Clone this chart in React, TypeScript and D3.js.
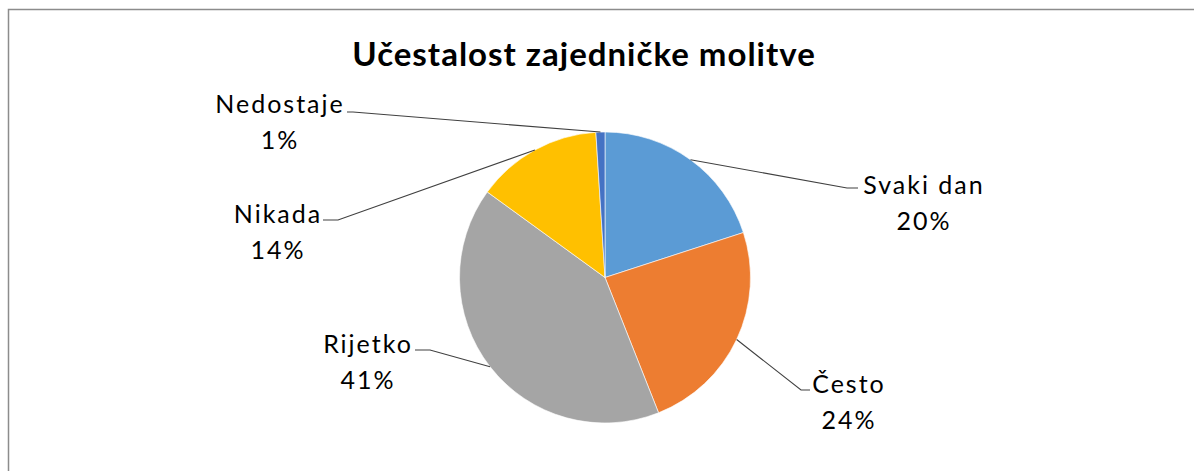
import React, { useEffect, useRef } from "react";
import * as d3 from "d3";

// data
const categories = ["Svaki dan", "Često", "Rijetko", "Nikada", "Nedostaje"];
const shares = [20, 24, 41, 14, 1];
const sliceColors = ["#5B9BD5", "#ED7D31", "#A5A5A5", "#FFC000", "#4472C4"];
const title = "Učestalost zajedničke molitve";

// label layout: elbow of leader line, end of leader line, label block centre and first baseline
const labelLayout = [
  { elbow: [847, 188], end: [858, 188], cx: 924, by: 194 },
  { elbow: [801, 390], end: [810, 390], cx: 849, by: 393 },
  { elbow: [430, 350], end: [415, 350], cx: 368, by: 353 },
  { elbow: [338, 220], end: [323, 220], cx: 278, by: 223 },
  { elbow: [353, 112], end: [347, 112], cx: 280, by: 113 },
];

const W = 1194;
const H = 471;
const FONT = "Lato, 'Open Sans', sans-serif";

export default function App() {
  const svgRef = useRef<SVGSVGElement | null>(null);

  useEffect(() => {
    const svg = d3.select(svgRef.current);
    svg.selectAll("*").remove();

    // chart frame (only top/left edges visible in the crop)
    svg
      .append("rect")
      .attr("x", 8.5)
      .attr("y", 9.5)
      .attr("width", W + 20)
      .attr("height", H + 20)
      .attr("fill", "#fff")
      .attr("stroke", "#8c8c8c")
      .attr("stroke-width", 1.5);

    svg
      .append("text")
      .attr("x", 584)
      .attr("y", 66)
      .attr("text-anchor", "middle")
      .style("font-family", FONT)
      .style("font-size", "33px")
      .style("font-weight", "700")
      .style("letter-spacing", "1px")
      .style("fill", "#000")
      .text(title);

    const cx = 605;
    const cy = 277.5;
    const r = 145.5;

    const pie = d3
      .pie<number>()
      .sort(null)
      .value((d) => d);
    const arcs = pie(shares);

    const arc = d3.arc<d3.PieArcDatum<number>>().innerRadius(0).outerRadius(r);
    const edge = d3.arc<d3.PieArcDatum<number>>().innerRadius(r).outerRadius(r);

    const g = svg.append("g").attr("transform", `translate(${cx},${cy})`);

    g.selectAll("path.slice")
      .data(arcs)
      .join("path")
      .attr("class", "slice")
      .attr("d", arc)
      .attr("fill", (d, i) => sliceColors[i])
      .attr("stroke", "#fff")
      .attr("stroke-width", 0.6);

    // leader lines
    const leaders = svg.append("g");
    arcs.forEach((d, i) => {
      const [ex, ey] = edge.centroid(d);
      const L = labelLayout[i];
      leaders
        .append("polyline")
        .attr("points", `${cx + ex},${cy + ey} ${L.elbow[0]},${L.elbow[1]} ${L.end[0]},${L.end[1]}`)
        .attr("fill", "none")
        .attr("stroke", "#404040")
        .attr("stroke-width", 1.1);
    });

    // labels
    const labels = svg
      .append("g")
      .style("font-family", FONT)
      .style("font-size", "25px")
      .style("letter-spacing", "2px")
      .style("fill", "#000");
    arcs.forEach((d, i) => {
      const L = labelLayout[i];
      const t = labels.append("text").attr("text-anchor", "middle");
      t.append("tspan").attr("x", L.cx).attr("y", L.by).text(categories[i]);
      t.append("tspan")
        .attr("x", L.cx)
        .attr("y", L.by + 36)
        .text(`${d3.format(".0f")(d.data)}%`);
    });
  }, []);

  return (
    <svg
      ref={svgRef}
      width={W}
      height={H}
      style={{ position: "absolute", left: 0, top: 0, background: "#fff" }}
    />
  );
}
